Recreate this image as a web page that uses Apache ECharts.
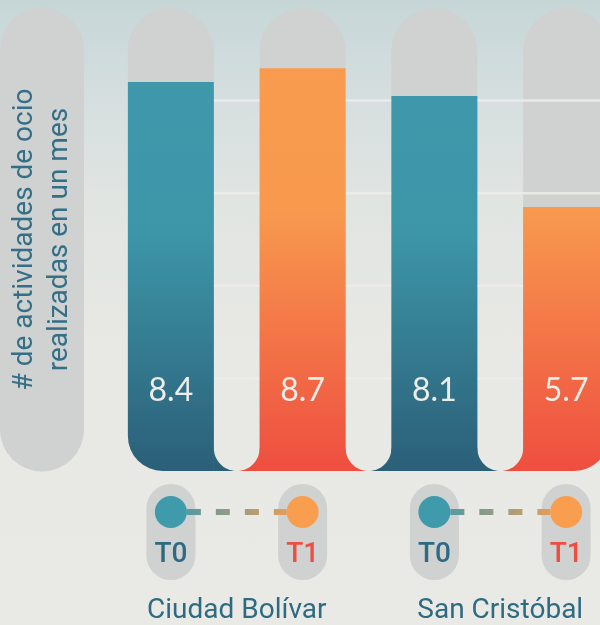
<!DOCTYPE html>
<html>
<head>
<meta charset="utf-8">
<script src="https://cdn.jsdelivr.net/npm/echarts@6.0.0/dist/echarts.min.js"></script>
<style>
html, body { margin: 0; padding: 0; width: 600px; height: 625px; overflow: hidden; }
body { background: linear-gradient(to bottom, #c6d6d7 0%, #d5dedf 15%, #e1e5e2 33%, #e8e8e4 55%, #e9e9e5 100%); }
#chart { width: 600px; height: 625px; }
</style>
</head>
<body>
<div id="chart"></div>
<script>
// ---- data ----
const groups = ['Ciudad Bolívar', 'San Cristóbal'];
const periods = ['T0', 'T1'];
const t0Values = [8.4, 8.1];
const t1Values = [8.7, 5.7];
const yTicks = [0, 2, 4, 6, 8, 10];
const yTitle = '# de actividades de ocio\nrealizadas en un mes';

// ---- derived tables ----
const categories = [];
const values = [];
const periodOf = [];
groups.forEach((g, gi) => {
  periods.forEach((p, pi) => {
    categories.push(g + ' ' + p);
    values.push(pi === 0 ? t0Values[gi] : t1Values[gi]);
    periodOf.push(pi);
  });
});
const yMax = yTicks[yTicks.length - 1];

// ---- styles ----
const BAR_W = 86;
const GRID = { left: 105, top: 8, width: 527, height: 463 };
const BASE_Y = GRID.top + GRID.height;
const PILL = '#d0d1d1';
const TEXT_TEAL = '#2e6b82';
const RED = '#ee4e40';
const TEAL = '#3f9aac';
const ORANGE = '#f99e4f';
const tealGrad = { type: 'linear', x: 0, y: 0, x2: 0, y2: BASE_Y, global: true,
  colorStops: [{ offset: 0, color: '#3f9aac' }, { offset: 0.5, color: '#3d95a8' }, { offset: 1, color: '#2b5f78' }] };
const orangeGrad = { type: 'linear', x: 0, y: 0, x2: 0, y2: BASE_Y, global: true,
  colorStops: [{ offset: 0, color: '#f99d4f' }, { offset: 0.45, color: '#f8994e' }, { offset: 1, color: '#ee4e40' }] };
const gradFor = pi => (pi === 0 ? tealGrad : orangeGrad);
const CORNER = 35;
const lastIdx = categories.length - 1;
const bottomRadius = i => (i === 0 ? [0, 0, 0, CORNER] : i === lastIdx ? [0, 0, CORNER, 0] : [0, 0, 0, 0]);

const chart = echarts.init(document.getElementById('chart'), null, { renderer: 'canvas' });

const option = {
  backgroundColor: 'transparent',
  animation: false,
  grid: Object.assign({ containLabel: false, outerBoundsMode: 'none' }, GRID),
  xAxis: [
    { type: 'category', data: categories, position: 'top', show: false },
    {
      type: 'category', data: groups, position: 'bottom',
      axisLine: { show: false }, axisTick: { show: false }, splitLine: { show: false },
      axisLabel: { margin: 126, fontSize: 28, fontFamily: 'Roboto', color: TEXT_TEAL }
    }
  ],
  yAxis: {
    type: 'value', min: 0, max: yMax, interval: 2,
    axisLine: { show: false }, axisTick: { show: false }, axisLabel: { show: false }, splitLine: { show: false },
    name: yTitle, nameLocation: 'middle', nameRotate: 90, nameGap: 63,
    nameTextStyle: {
      fontSize: 28, fontFamily: 'Roboto', color: '#336f86', lineHeight: 35,
      align: 'center', verticalAlign: 'middle',
      padding: [7, 81, 7, 81],
      backgroundColor: PILL, borderRadius: 42
    }
  },
  series: [
    {
      name: 'fondo', type: 'bar', xAxisIndex: 0, z: 1, silent: true,
      barWidth: BAR_W,
      data: categories.map((c, i) => ({ value: yMax, itemStyle: { color: PILL, borderRadius: [43, 43, bottomRadius(i)[2], bottomRadius(i)[3]] } }))
    },
    {
      name: 'rejilla', type: 'custom', xAxisIndex: 0, z: 2, silent: true, clip: false,
      data: yTicks.filter(v => v > 0 && v < yMax).map(v => [0, v]),
      renderItem: (params, api) => {
        const cs = params.coordSys;
        const band = cs.width / categories.length;
        const y = api.coord([0, api.value(1)])[1];
        return { type: 'line', shape: { x1: cs.x + (band - BAR_W) / 2, y1: y, x2: cs.x + cs.width, y2: y },
          style: { stroke: 'rgba(236,236,232,0.92)', lineWidth: 2.5 } };
      }
    },
    {
      name: 'actividades', type: 'bar', xAxisIndex: 0, z: 3, barWidth: BAR_W, barGap: '-100%',
      data: values.map((v, i) => ({ value: v, itemStyle: { color: gradFor(periodOf[i]), borderRadius: bottomRadius(i) } })),
      label: {
        show: true, position: 'insideBottom', distance: 64,
        fontSize: 32, fontFamily: 'Lato', color: '#ecece8',
        formatter: p => p.value.toFixed(1)
      }
    },
    {
      name: 'esquinas', type: 'custom', xAxisIndex: 0, z: 3, silent: true, clip: false,
      data: categories.slice(0, -1).map((c, i) => [i, 0]),
      renderItem: (params, api) => {
        const i = api.value(0);
        const a = api.coord([i, 0]);
        const b = api.coord([i + 1, 0]);
        const left = a[0] + BAR_W / 2, right = b[0] - BAR_W / 2, yb = a[1];
        const r = (right - left) / 2, cx = left + r, cy = yb - r;
        const N = 20;
        const lp = [[left - 0.6, cy], [left - 0.6, yb]];
        const rp = [[right + 0.6, cy], [right + 0.6, yb]];
        for (let k = 0; k <= N; k++) {
          const t1 = Math.PI / 2 + (Math.PI / 2) * k / N;
          lp.push([cx + r * Math.cos(t1), cy + r * Math.sin(t1)]);
          const t2 = Math.PI / 2 - (Math.PI / 2) * k / N;
          rp.push([cx + r * Math.cos(t2), cy + r * Math.sin(t2)]);
        }
        return { type: 'group', children: [
          { type: 'polygon', shape: { points: lp }, style: { fill: gradFor(periodOf[i]) } },
          { type: 'polygon', shape: { points: rp }, style: { fill: gradFor(periodOf[i + 1]) } }
        ] };
      }
    },
    {
      name: 'periodos', type: 'custom', xAxisIndex: 0, z: 4, silent: true, clip: false,
      data: groups.map((g, gi) => [gi * periods.length, 0]),
      renderItem: (params, api) => {
        const i0 = api.value(0);
        const p0 = api.coord([i0, 0]);
        const p1 = api.coord([i0 + 1, 0]);
        const yb = p0[1];
        const pw = 49, ph = 96, pt = yb + 13, r = 16, cy = yb + 41, ty = yb + 84;
        const lineGrad = { type: 'linear', x: p0[0], y: 0, x2: p1[0], y2: 0, global: true,
          colorStops: [{ offset: 0, color: TEAL }, { offset: 1, color: ORANGE }] };
        return { type: 'group', children: [
          { type: 'rect', shape: { x: p0[0] - pw / 2, y: pt, width: pw, height: ph, r: pw / 2 }, style: { fill: PILL } },
          { type: 'rect', shape: { x: p1[0] - pw / 2, y: pt, width: pw, height: ph, r: pw / 2 }, style: { fill: PILL } },
          { type: 'line', shape: { x1: p0[0] + r, y1: cy, x2: p1[0] - r, y2: cy },
            style: { stroke: lineGrad, lineWidth: 6, lineDash: [14, 15] } },
          { type: 'circle', shape: { cx: p0[0], cy: cy, r: r }, style: { fill: TEAL } },
          { type: 'circle', shape: { cx: p1[0], cy: cy, r: r }, style: { fill: ORANGE } },
          { type: 'text', style: { text: periods[0], x: p0[0], y: ty, align: 'center', verticalAlign: 'middle',
            fontSize: 28, fontWeight: 500, fontFamily: 'Roboto', fill: TEXT_TEAL } },
          { type: 'text', style: { text: periods[1], x: p1[0], y: ty, align: 'center', verticalAlign: 'middle',
            fontSize: 28, fontWeight: 500, fontFamily: 'Roboto', fill: RED } }
        ] };
      }
    }
  ]
};
chart.setOption(option);
</script>
</body>
</html>
